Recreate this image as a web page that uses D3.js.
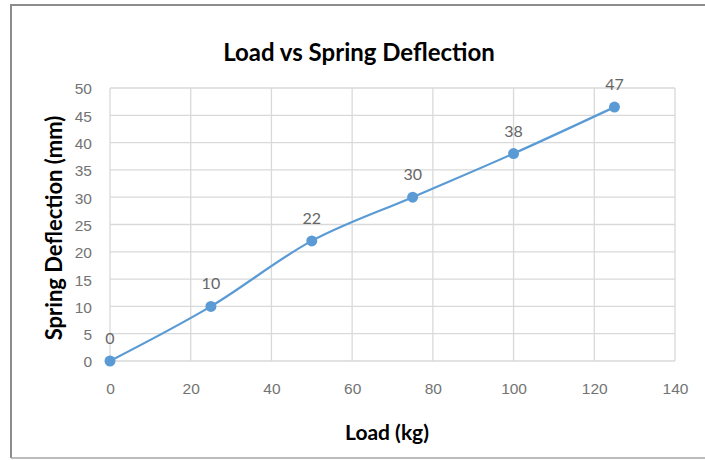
<!DOCTYPE html>
<html>
<head>
<meta charset="utf-8">
<script src="https://cdn.jsdelivr.net/npm/d3@7"></script>
<style>
  body { margin: 0; background: #fff; }
  svg { display: block; font-family: Lato, "Open Sans", sans-serif; }
</style>
</head>
<body>
<script>
// data
const loads = [0, 25, 50, 75, 100, 125];
const deflections = [0, 10, 22, 30, 38, 46.5];
const xTicks = [0, 20, 40, 60, 80, 100, 120, 140];
const yTicks = [0, 5, 10, 15, 20, 25, 30, 35, 40, 45, 50];

const width = 705, height = 460;
const plot = { left: 110, right: 675, top: 88, bottom: 361 };

const svg = d3.select('body').append('svg')
    .attr('width', width)
    .attr('height', height);

// chart frame
svg.append('path')
    .attr('d', `M11,458 V5 H${width}`)
    .attr('fill', 'none')
    .attr('stroke', '#8c8c8c')
    .attr('stroke-width', 2);
svg.append('line')
    .attr('x1', 11).attr('x2', width)
    .attr('y1', 458).attr('y2', 458)
    .attr('stroke', '#a6a6a6')
    .attr('stroke-width', 1.5);

const x = d3.scaleLinear().domain([0, 140]).range([plot.left, plot.right]);
const y = d3.scaleLinear().domain([0, 50]).range([plot.bottom, plot.top]);

// gridlines
svg.append('g')
    .selectAll('line')
    .data(yTicks)
    .join('line')
    .attr('x1', plot.left).attr('x2', plot.right)
    .attr('y1', d => y(d)).attr('y2', d => y(d))
    .attr('stroke', '#d9d9d9')
    .attr('stroke-width', 1.3);

svg.append('g')
    .selectAll('line')
    .data(xTicks)
    .join('line')
    .attr('x1', d => x(d)).attr('x2', d => x(d))
    .attr('y1', plot.top).attr('y2', plot.bottom)
    .attr('stroke', '#d9d9d9')
    .attr('stroke-width', 1.3);

// axes (labels only, the lines are the grid)
const xAxis = svg.append('g')
    .attr('transform', `translate(0,${plot.bottom + 22})`)
    .call(d3.axisBottom(x).tickValues(xTicks).tickSize(0).tickPadding(0));
xAxis.select('.domain').remove();
xAxis.selectAll('text')
    .attr('fill', '#737373')
    .style('font-size', '15.5px');

const yAxis = svg.append('g')
    .attr('transform', `translate(${plot.left - 18},1)`)
    .call(d3.axisLeft(y).tickValues(yTicks).tickSize(0).tickPadding(0));
yAxis.select('.domain').remove();
yAxis.selectAll('text')
    .attr('fill', '#737373')
    .style('font-size', '15.5px');

// title and axis titles
svg.append('text')
    .attr('x', 359).attr('y', 61)
    .attr('text-anchor', 'middle')
    .style('font-size', '24px')
    .style('font-weight', 'bold')
    .text('Load vs Spring Deflection');

svg.append('text')
    .attr('x', 387).attr('y', 440)
    .attr('text-anchor', 'middle')
    .style('font-size', '21px')
    .style('font-weight', 'bold')
    .text('Load (kg)');

svg.append('text')
    .attr('transform', 'translate(62,228) rotate(-90)')
    .attr('text-anchor', 'middle')
    .style('font-size', '22px')
    .style('font-weight', 'bold')
    .text('Spring Deflection (mm)');

// series
const pts = loads.map((l, i) => [l, deflections[i]]);

svg.append('path')
    .datum(pts)
    .attr('fill', 'none')
    .attr('stroke', '#5b9bd5')
    .attr('stroke-width', 2.25)
    .attr('d', d3.line()
        .x(d => x(d[0]))
        .y(d => y(d[1]))
        .curve(d3.curveCatmullRom.alpha(0.5)));

svg.append('g')
    .selectAll('circle')
    .data(pts)
    .join('circle')
    .attr('cx', d => x(d[0]))
    .attr('cy', d => y(d[1]))
    .attr('r', 5.5)
    .attr('fill', '#5b9bd5');

svg.append('g')
    .selectAll('text')
    .data(pts)
    .join('text')
    .attr('x', d => x(d[0]))
    .attr('y', d => y(d[1]) - 17)
    .attr('text-anchor', 'middle')
    .attr('fill', '#666666')
    .style('font-size', '16px')
    .text(d => d3.format('.0f')(d[1]));
</script>
</body>
</html>
